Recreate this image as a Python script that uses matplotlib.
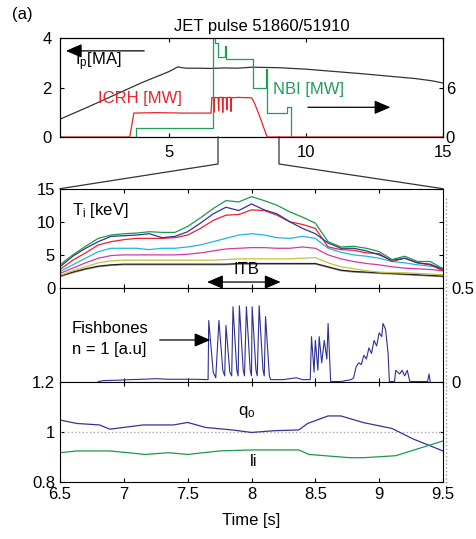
import matplotlib
matplotlib.use('Agg')
import matplotlib.pyplot as plt
from matplotlib.lines import Line2D

plt.rcParams['font.family'] = ['Liberation Sans', 'DejaVu Sans']
plt.rcParams['mathtext.fontset'] = 'custom'
plt.rcParams['mathtext.rm'] = 'Liberation Sans'
plt.rcParams['mathtext.it'] = 'Liberation Sans'
plt.rcParams['xtick.direction'] = 'in'
plt.rcParams['ytick.direction'] = 'in'
plt.rcParams['xtick.major.size'] = 3
plt.rcParams['ytick.major.size'] = 3

# ---- top panel: plasma current and heating (whole pulse)
ip_t = [1.0, 2.0, 3.0, 4.0, 5.0, 5.3, 5.6, 6.0, 6.5, 7.0, 7.5, 8.0, 9.0, 10.0, 11.0, 12.0, 13.0, 14.0, 14.6, 15.0]
ip = [0.72, 1.2, 1.7, 2.2, 2.65, 2.83, 2.78, 2.78, 2.77, 2.79, 2.78, 2.82, 2.8, 2.74, 2.65, 2.56, 2.46, 2.36, 2.27, 2.18]

icrh_t = [1.0, 3.55, 3.7, 4.5, 5.5, 6.52, 6.55, 6.61, 6.63, 6.65, 6.78, 6.80, 6.82, 6.93, 6.95, 6.97,
          7.08, 7.10, 7.12, 7.23, 7.25, 7.27, 7.5, 8.0, 8.1, 8.3, 8.57, 15.0]
icrh = [0, 0, 2.9, 2.95, 2.9, 2.9, 4.8, 4.7, 3.0, 4.8, 4.75, 3.2, 4.8, 4.8, 3.0, 4.8,
        4.75, 3.3, 4.8, 4.8, 3.1, 4.75, 4.8, 4.75, 4.2, 2.5, 0, 0]

nbi_t = [1.0, 3.76, 6.58, 6.65, 6.78, 7.02, 7.06, 8.06, 8.52, 8.55, 9.3, 9.46, 15.0]
nbi = [0, 1.1, 13, 11.4, 9.7, 11.0, 9.5, 6.0, 8.3, 2.9, 3.6, 0, 0]

# ---- ion temperature profiles
ti_t = [6.5, 6.6, 6.7, 6.8, 6.9, 7.0, 7.1, 7.2, 7.3, 7.4, 7.5, 7.6, 7.7, 7.8, 7.9, 8.0,
        8.1, 8.2, 8.3, 8.4, 8.5, 8.6, 8.7, 8.8, 8.9, 9.0, 9.1, 9.2, 9.3, 9.4, 9.5]
ti_green = [3.5, 5.0, 6.3, 7.5, 8.0, 8.2, 8.3, 8.5, 8.4, 8.4, 9.3, 10.6, 12.0, 13.2, 13.0, 13.8,
            13.2, 12.5, 11.5, 10.7, 9.8, 7.0, 6.2, 6.3, 6.0, 5.5, 4.3, 4.8, 4.0, 4.0, 2.9]
ti_blue = [3.2, 4.8, 6.0, 7.0, 7.8, 7.9, 8.0, 8.2, 7.6, 7.8, 8.5, 9.8, 11.2, 12.2, 11.7, 12.7,
           11.8, 11.2, 10.0, 9.0, 8.2, 6.8, 6.0, 6.0, 5.6, 5.0, 4.2, 4.5, 3.8, 3.6, 2.8]
ti_red = [2.8, 4.2, 5.3, 6.5, 7.0, 7.3, 7.5, 7.5, 7.5, 7.6, 8.0, 9.0, 10.2, 11.0, 11.1, 11.8,
          11.7, 11.0, 10.0, 9.6, 9.0, 6.2, 5.8, 5.7, 5.3, 5.2, 4.0, 4.5, 3.8, 3.5, 2.6]
ti_cyan = [2.5, 3.5, 4.5, 5.5, 6.0, 6.0, 6.0, 5.8, 6.0, 6.0, 6.2, 6.5, 7.0, 7.5, 8.0, 8.2,
           8.0, 7.6, 7.5, 7.8, 7.5, 6.0, 5.4, 5.0, 4.8, 4.5, 4.0, 3.8, 3.5, 3.3, 3.0]
ti_mag = [2.2, 3.0, 3.8, 4.5, 4.9, 5.0, 5.0, 5.0, 5.0, 5.0, 5.1, 5.3, 5.6, 5.9, 6.0, 6.1,
          6.1, 6.0, 6.0, 6.2, 6.0, 5.0, 4.4, 4.0, 3.7, 3.5, 3.2, 3.0, 2.9, 2.8, 2.6]
ti_yel = [1.9, 2.6, 3.2, 3.8, 4.1, 4.2, 4.2, 4.2, 4.2, 4.2, 4.2, 4.2, 4.2, 4.3, 4.4, 4.4,
          4.4, 4.4, 4.4, 4.5, 4.6, 3.8, 3.2, 2.9, 2.6, 2.4, 2.3, 2.3, 2.2, 2.1, 2.0]
ti_gray = [1.7, 2.3, 2.8, 3.2, 3.4, 3.5, 3.5, 3.5, 3.5, 3.5, 3.5, 3.5, 3.5, 3.5, 3.6, 3.6,
           3.6, 3.6, 3.6, 3.6, 3.6, 3.1, 2.6, 2.4, 2.3, 2.2, 2.1, 2.0, 1.9, 1.8, 1.7]
ti_black = [1.8, 2.4, 2.9, 3.3, 3.5, 3.6, 3.6, 3.6, 3.6, 3.6, 3.6, 3.6, 3.6, 3.6, 3.7, 3.7,
            3.7, 3.7, 3.7, 3.7, 3.7, 3.2, 2.7, 2.5, 2.4, 2.3, 2.2, 2.1, 2.0, 1.9, 1.8]

# ---- fishbones n=1 amplitude
fb_t = [6.80, 6.84, 6.95, 7.05, 7.15, 7.25, 7.35, 7.45, 7.55, 7.66,
        7.665, 7.70, 7.72, 7.745, 7.775, 7.79, 7.80, 7.83, 7.845, 7.855, 7.885, 7.895,
        7.905, 7.935, 7.945, 7.96, 7.99, 8.0, 8.005, 8.035, 8.045, 8.06, 8.09, 8.10,
        8.11, 8.14, 8.15, 8.25, 8.35, 8.40, 8.46,
        8.47, 8.49, 8.50, 8.52, 8.53, 8.55, 8.57, 8.59, 8.60, 8.62, 8.70, 8.78, 8.80,
        8.82, 8.84, 8.86, 8.88, 8.90, 8.92, 8.94, 8.96, 8.98, 9.00, 9.02, 9.03, 9.05, 9.07, 9.08, 9.12,
        9.13, 9.16, 9.18, 9.20, 9.22, 9.24, 9.38, 9.39, 9.40]
fb_a = [0.0, 0.005, 0.007, 0.01, 0.012, 0.015, 0.012, 0.012, 0.012, 0.01,
        0.326, 0.05, 0.02, 0.326, 0.06, 0.03, 0.30, 0.05, 0.03, 0.40, 0.06, 0.03,
        0.405, 0.06, 0.03, 0.40, 0.06, 0.03, 0.40, 0.06, 0.03, 0.405, 0.06, 0.03,
        0.347, 0.03, 0.01, 0.01, 0.02, 0.01, 0.01,
        0.24, 0.05, 0.22, 0.06, 0.24, 0.10, 0.22, 0.12, 0.31, 0.0, 0.0, 0.01, 0.02,
        0.08, 0.10, 0.09, 0.14, 0.12, 0.18, 0.15, 0.22, 0.19, 0.26, 0.24, 0.31, 0.28, 0.15, 0.0, 0.0,
        0.06, 0.04, 0.06, 0.03, 0.06, 0.0, 0.0, 0.04, 0.0]

# ---- q0 and li
q_t = [6.5, 6.63, 6.81, 6.89, 7.15, 7.39, 7.5, 7.64, 7.85, 8.0, 8.18, 8.37, 8.44, 8.6, 8.7, 8.88, 9.1, 9.27, 9.5]
q0 = [1.047, 1.033, 1.027, 1.01, 1.027, 1.027, 1.037, 1.017, 1.007, 0.997, 1.004, 1.007, 1.033, 1.063, 1.063, 1.036, 1.013, 0.97, 0.923]
li_t = [6.5, 6.63, 6.89, 7.17, 7.35, 7.5, 7.75, 8.0, 8.37, 8.45, 8.77, 8.88, 9.13, 9.5]
li = [0.916, 0.923, 0.923, 0.909, 0.916, 0.909, 0.923, 0.927, 0.927, 0.909, 0.896, 0.896, 0.904, 0.963]

W, H = 477, 539
fig = plt.figure(figsize=(W / 100, H / 100), dpi=100)

def box(top, bottom):
    return [60 / W, 1 - bottom / H, 383 / W, (bottom - top) / H]

arr = dict(arrowstyle='-|>,head_length=0.7,head_width=0.3', color='black', lw=0.9, mutation_scale=14)

# top panel
ax0 = fig.add_axes(box(38, 137))
ax0.plot(ip_t, ip, color='#333333', lw=0.9)
ax0.set_xlim(1, 15)
ax0.set_ylim(0, 4)
ax0.set_xticks([5, 10, 15])
ax0.set_yticks([0, 2, 4])
ax0.tick_params(labelsize=12, top=True, pad=6)
ax0r = ax0.twinx()
ax0r.plot(icrh_t, icrh, color='#e8232b', lw=0.9)
ax0r.step(nbi_t, nbi, where='post', color='#1f9e55', lw=0.9)
ax0r.set_ylim(0, 12)
ax0r.set_yticks([0, 6])
ax0r.tick_params(labelsize=12, pad=2)
ax0.annotate('', xy=(0.008, 0.87), xytext=(0.227, 0.87), xycoords='axes fraction', arrowprops=arr)
ax0.text(0.04, 0.76, r'I$_{\mathrm{p}}$[MA]', transform=ax0.transAxes, fontsize=12, va='center')
ax0.text(0.099, 0.39, 'ICRH [MW]', transform=ax0.transAxes, fontsize=12, va='center', color='#e8232b')
ax0.text(0.556, 0.475, 'NBI [MW]', transform=ax0.transAxes, fontsize=12, va='center', color='#1f9e55')
ax0.annotate('', xy=(0.87, 0.30), xytext=(0.64, 0.30), xycoords='axes fraction', arrowprops=arr)
fig.text(262 / W, 1 - 27 / H, 'JET pulse 51860/51910', ha='center', va='center', fontsize=12)
fig.text(12 / W, 1 - 15 / H, '(a)', ha='left', va='center', fontsize=12)

# Ti panel
ax1 = fig.add_axes(box(188.7, 288))
ax1.plot(ti_t, ti_gray, color='#9a9a9a', lw=0.9)
ax1.plot(ti_t, ti_black, color='#222222', lw=0.9)
ax1.plot(ti_t, ti_yel, color='#c9c040', lw=0.9)
ax1.plot(ti_t, ti_mag, color='#d5399f', lw=0.9)
ax1.plot(ti_t, ti_cyan, color='#22b4e0', lw=0.9)
ax1.plot(ti_t, ti_red, color='#ec2228', lw=0.9)
ax1.plot(ti_t, ti_blue, color='#33339a', lw=0.9)
ax1.plot(ti_t, ti_green, color='#1a9a48', lw=0.9)
ax1.set_xlim(6.5, 9.5)
ax1.set_ylim(0, 15)
ax1.set_yticks([0, 5, 10, 15])
ax1.set_xticks([7, 7.5, 8, 8.5, 9])
ax1.tick_params(labelsize=12, top=True, right=True, labelbottom=False)
ax1.text(0.031, 0.78, r'T$_{\mathrm{i}}$ [keV]', transform=ax1.transAxes, fontsize=12, va='center')
ax1.text(7.96, 2.8, 'ITB', fontsize=12, ha='center', va='center')
ax1.annotate('', xy=(7.63, 0.9), xytext=(8.25, 0.9),
             arrowprops=dict(arrowstyle='<|-|>,head_length=0.7,head_width=0.3', color='black', lw=0.9, mutation_scale=14))

# fishbones panel
ax2 = fig.add_axes(box(288, 381.5))
ax2.plot(fb_t, fb_a, color='#2e3192', lw=0.8)
ax2.set_xlim(6.5, 9.5)
ax2.set_ylim(0, 0.5)
ax2.set_yticks([0, 0.5])
ax2.set_yticklabels(['0', '0.5'])
ax2.set_xticks([7, 7.5, 8, 8.5, 9])
ax2.yaxis.tick_right()
ax2.tick_params(labelsize=12, top=True, labelbottom=False, pad=6)
ax2.text(0.031, 0.57, 'Fishbones', transform=ax2.transAxes, fontsize=12, va='center')
ax2.text(0.031, 0.337, 'n = 1 [a.u]', transform=ax2.transAxes, fontsize=12, va='center')
ax2.annotate('', xy=(0.40, 0.444), xytext=(0.253, 0.444), xycoords='axes fraction', arrowprops=arr)

# q0 / li panel
ax3 = fig.add_axes(box(381.7, 481.7))
ax3.axhline(1.0, color='#aaaaaa', lw=1.0, ls=':')
ax3.plot(q_t, q0, color='#33339a', lw=0.9)
ax3.plot(li_t, li, color='#1a9a48', lw=0.9)
ax3.set_xlim(6.5, 9.5)
ax3.set_ylim(0.8, 1.2)
ax3.set_yticks([0.8, 1, 1.2])
ax3.set_yticklabels(['0.8', '1', '1.2'])
ax3.set_xticks([6.5, 7, 7.5, 8, 8.5, 9, 9.5])
ax3.set_xticklabels(['6.5', '7', '7.5', '8', '8.5', '9', '9.5'])
ax3.tick_params(labelsize=12, top=True, right=True)
ax3.text(7.96, 1.079, r'q$_{\mathrm{o}}$', fontsize=12, ha='center', va='center')
ax3.text(8.02, 0.879, 'li', fontsize=12, ha='center', va='center')
ax3.set_xlabel('Time [s]', fontsize=12, labelpad=8)

# zoom connector from the top panel to the lower panels
for xa, xb in [(218, 60), (279, 443)]:
    fig.add_artist(Line2D([xa / W, xa / W, xb / W], [1 - 137 / H, 1 - 164 / H, 1 - 188.7 / H],
                          transform=fig.transFigure, color='#333333', lw=0.9))
fig.add_artist(Line2D([446 / W, 446 / W], [1 - 198 / H, 1 - 490 / H], transform=fig.transFigure,
                      color='#999999', lw=1.0, ls=':'))

fig.savefig('out.png', dpi=100)
